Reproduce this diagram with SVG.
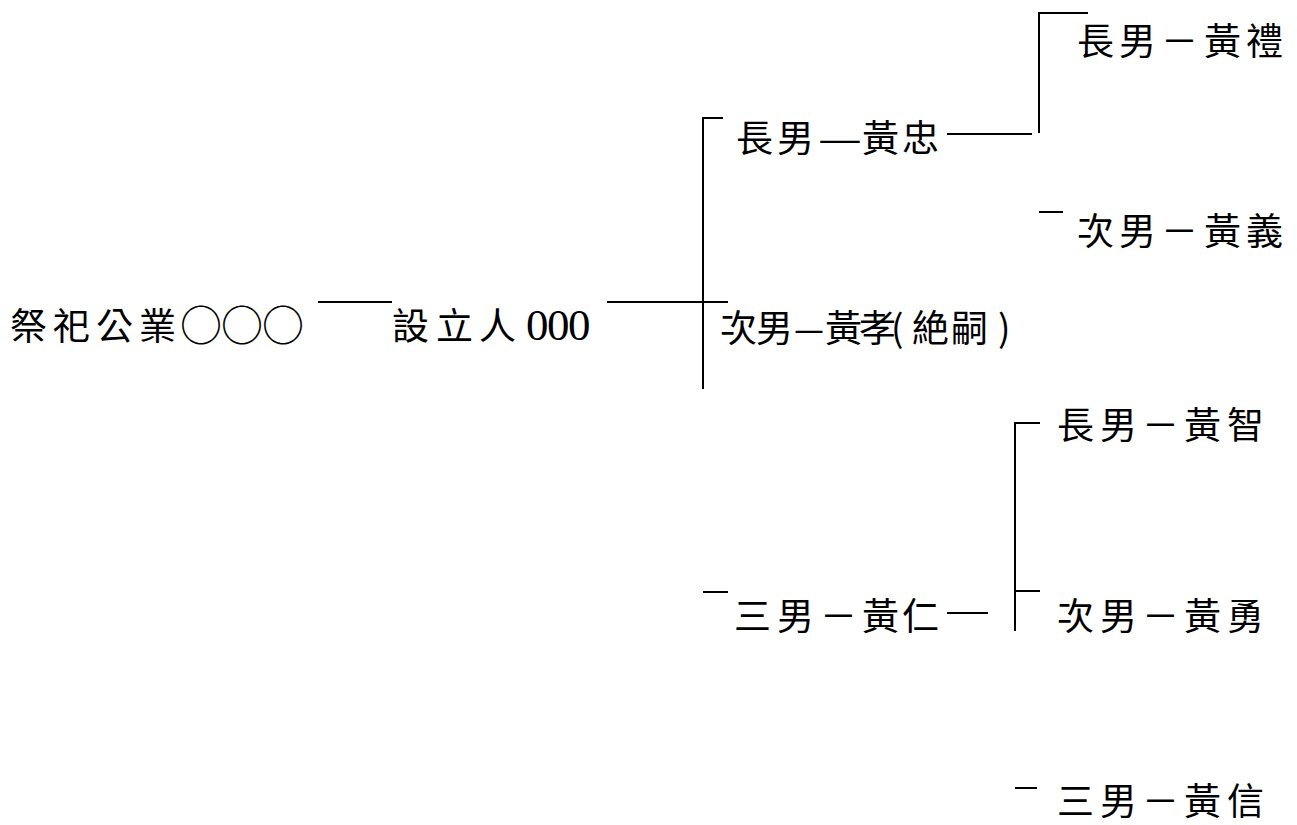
<svg xmlns="http://www.w3.org/2000/svg" width="1297" height="825" viewBox="0 0 1297 825">
<style>
text{font-family:"Noto Sans CJK TC","Noto Sans CJK SC",sans-serif;font-size:37px;fill:#000}
.num{font-family:"Liberation Serif",serif;font-size:45px}
.cir{font-size:42px}
line{stroke:#000;stroke-width:2;fill:none}
</style>
<rect width="1297" height="825" fill="#fff"/>
<g id="connectors">
<line x1="318" y1="302" x2="392" y2="302"/>
<line x1="607" y1="302" x2="728" y2="302"/>
<line x1="703" y1="117" x2="703" y2="389"/>
<line x1="702" y1="118" x2="723" y2="118"/>
<line x1="947" y1="134" x2="1032" y2="134"/>
<line x1="1039" y1="12" x2="1039" y2="133"/>
<line x1="1038" y1="13" x2="1088" y2="13"/>
<line x1="1039" y1="212" x2="1063" y2="212"/>
<line x1="703" y1="592" x2="728" y2="592"/>
<line x1="947" y1="613" x2="988" y2="613"/>
<line x1="1015" y1="422" x2="1015" y2="631"/>
<line x1="1014" y1="423" x2="1040" y2="423"/>
<line x1="1015" y1="591" x2="1040" y2="591"/>
<line x1="1015" y1="788" x2="1037" y2="788"/>
</g>
<g id="root"><text y="340"><tspan x="10 53 96 139">祭祀公業</tspan><tspan class="cir" x="180 221 262" y="341">○○○</tspan></text></g>
<g id="founder"><text y="340"><tspan x="392 436 479">設立人</tspan><tspan class="num" x="526 547 568">000</tspan></text></g>
<g id="son1"><text y="152"><tspan x="736 777">長男</tspan><tspan x="818" textLength="44" lengthAdjust="spacingAndGlyphs">—</tspan><tspan x="862 902">黃忠</tspan></text></g>
<g id="son2"><text y="342"><tspan x="720 756">次男</tspan><tspan x="794" textLength="30" lengthAdjust="spacingAndGlyphs">—</tspan><tspan x="825 859 891 912 951 998">黃孝(絶嗣)</tspan></text></g>
<g id="son3"><text y="630" x="734 777 820 862 902">三男－黃仁</text></g>
<g id="gs1"><text y="55" x="1077 1119 1161 1204 1246">長男－黃禮</text></g>
<g id="gs2"><text y="245" x="1077 1119 1161 1204 1246">次男－黃義</text></g>
<g id="gs3"><text y="439" x="1057 1100 1142 1184 1227">長男－黃智</text></g>
<g id="gs4"><text y="630" x="1057 1100 1142 1184 1227">次男－黃勇</text></g>
<g id="gs5"><text y="815" x="1057 1100 1142 1184 1227">三男－黃信</text></g>
</svg>
